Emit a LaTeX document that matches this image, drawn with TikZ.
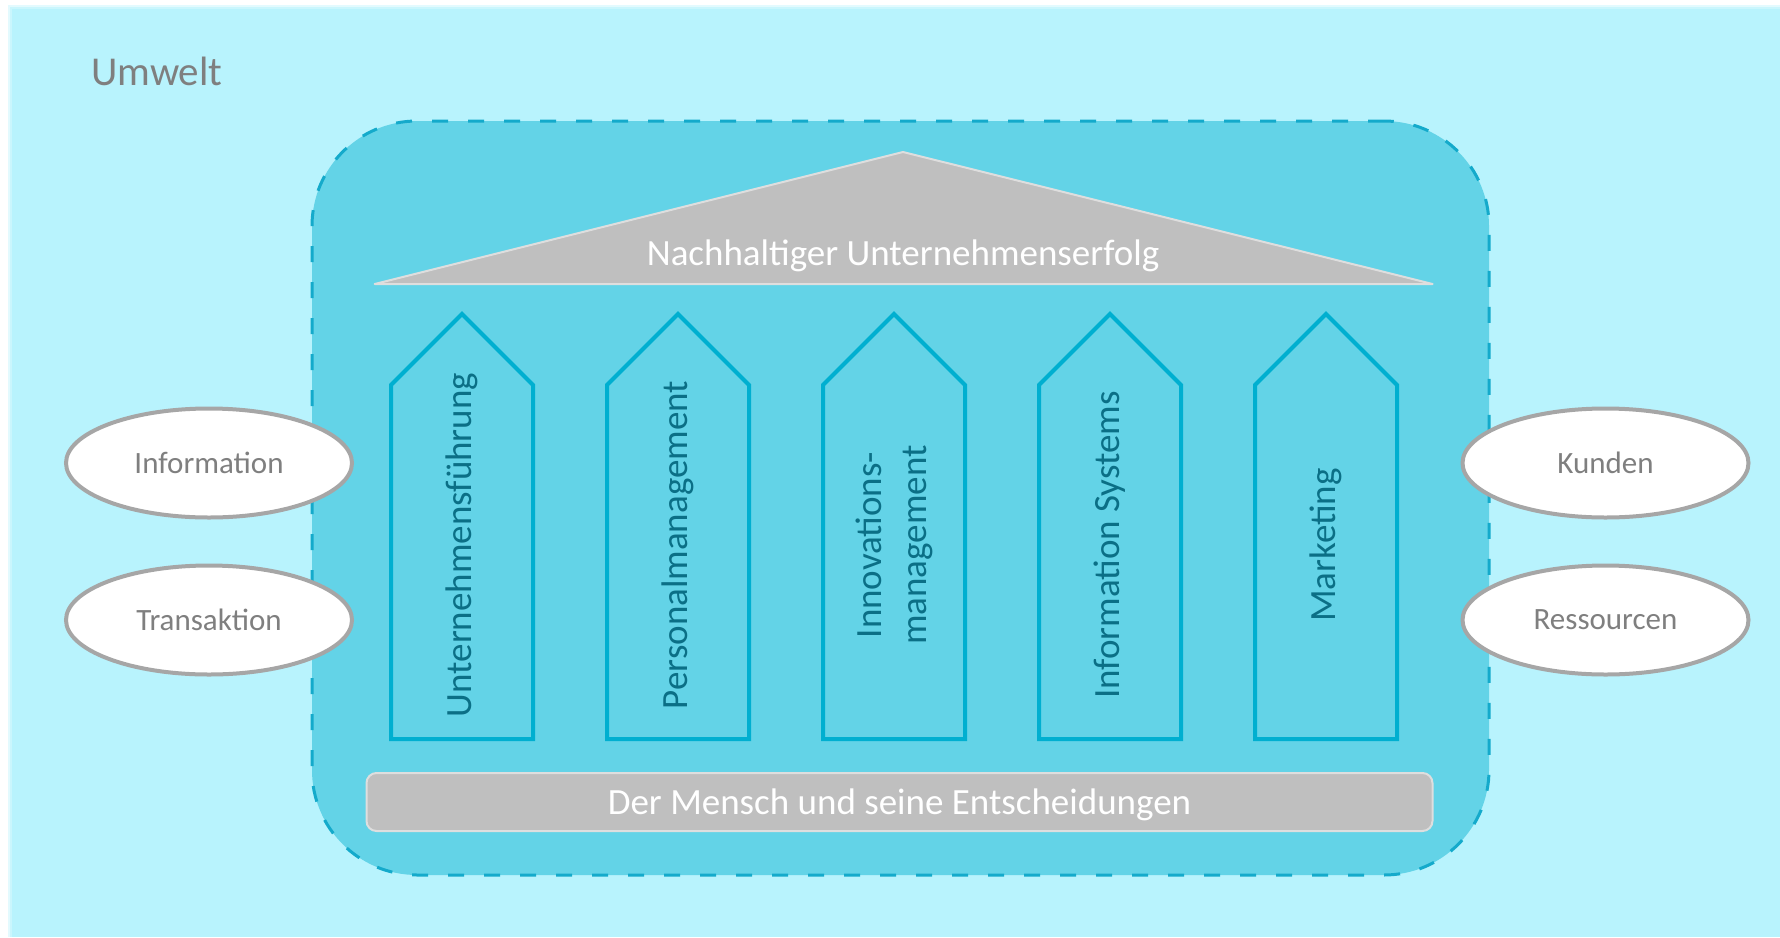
\documentclass[tikz,border=0pt]{standalone}
\usepackage{fontspec}
\setmainfont{Carlito}
\usetikzlibrary{shapes.geometric}
\definecolor{bgc}{HTML}{B8F3FD}
\definecolor{innerc}{HTML}{63D3E7}
\definecolor{dashc}{HTML}{14AACB}
\definecolor{pillarc}{HTML}{00AFD0}
\definecolor{ptext}{HTML}{0B6F86}
\definecolor{roofc}{HTML}{BFBFBF}
\definecolor{roofline}{HTML}{DEDEDE}
\definecolor{ellline}{HTML}{A6A6A6}
\definecolor{elltext}{HTML}{7F7F7F}
\tikzset{
  envbox/.style={rectangle, rounded corners=105pt, fill=innerc, draw=dashc, line width=3pt,
    dash pattern=on 16pt off 20pt, minimum width=1177pt, minimum height=754pt, inner sep=0pt},
  pillarbox/.style={draw=pillarc, line width=4pt, fill=innerc},
  pillartext/.style={rotate=90, text=ptext, font=\fontsize{37}{45}\selectfont, align=center, inner sep=0pt},
  rooftext/.style={text=white, font=\fontsize{37}{45}\selectfont, inner sep=0pt},
  basebar/.style={rectangle, rounded corners=10pt, fill=roofc, draw=roofline, line width=2pt,
    minimum width=1066pt, minimum height=58pt, text=white, text depth=0pt, font=\fontsize{37}{45}\selectfont},
  oval/.style={ellipse, fill=white, draw=ellline, line width=4pt, minimum width=286pt,
    minimum height=109pt, text=elltext, font=\fontsize{31}{37}\selectfont, inner sep=0pt},
}
\begin{document}
\begin{tikzpicture}[x=1pt,y=-1pt]
\useasboundingbox (0,0) rectangle (1780,937);
\fill[white] (0,0) rectangle (1780,937);
\fill[bgc!40!white] (8,5) rectangle (1780,937);
\fill[bgc!75!white] (10,7) rectangle (1780,937);
\fill[bgc] (12,9) rectangle (1780,937);

\node[anchor=base west, text=elltext, font=\fontsize{41}{49}\selectfont, inner sep=0pt] (umwelt) at (91,85) {Umwelt};

\node[envbox] (env) at (900.5,498) {};

% roof
\coordinate (rl) at (374.6,284);
\coordinate (rt) at (903,152);
\coordinate (rr) at (1432.6,284);
\filldraw[fill=roofc, draw=roofline, line width=2pt, line join=round] (rl) -- (rt) -- (rr) -- cycle;
\node[rooftext, anchor=base] (roof) at (903,265) {Nachhaltiger Unternehmenserfolg};

% pillars
\foreach \i/\txt/\nm in {0/Unternehmensführung/p1, 1/Personalmanagement/p2, 2/{Innovations-\\management}/p3, 3/Information Systems/p4, 4/Marketing/p5}{
  \pgfmathsetmacro{\cx}{462+216*\i}
  \pgfmathsetmacro{\xl}{\cx-71}
  \pgfmathsetmacro{\xr}{\cx+71}
  \draw[pillarbox] (\xl,739) -- (\xl,385) -- (\cx,314) -- (\xr,385) -- (\xr,739) -- cycle;
  \node[pillartext] (\nm) at (\cx,545) {\txt};
}

% base
\node[basebar] (base) at (899.5,802) {Der Mensch und seine Entscheidungen};

% ellipses
\node[oval] (info) at (209,463) {Information};
\node[oval] (trans) at (209,620) {Transaktion};
\node[oval] (kunden) at (1605.5,463) {Kunden};
\node[oval] (ress) at (1605.5,620) {Ressourcen};
\end{tikzpicture}
\end{document}
